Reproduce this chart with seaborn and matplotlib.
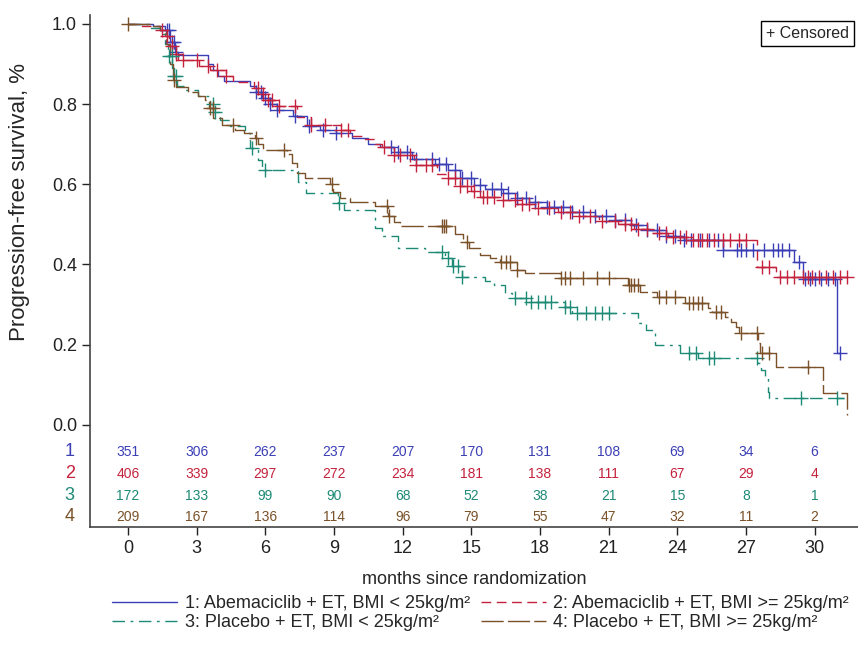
import numpy as np
import pandas as pd
import matplotlib

matplotlib.use("Agg")
import matplotlib.pyplot as plt
import seaborn as sns

# --- data (months, survival) ---
blue_t = [0, 1.1, 1.6, 1.85, 2.05, 2.2, 3.5, 3.7, 3.95, 4.2, 5.35, 5.6, 5.85, 6.2, 6.5, 7.2, 7.8,
          8.4, 9.1, 9.8, 10.5, 11.0, 11.6, 12.4, 13.4, 14.0, 14.5, 15.1, 15.6, 16.4, 17.0, 17.5,
          18.3, 19.4, 20.4, 21.3, 22.0, 22.7, 23.5, 24.3, 26.0, 29.1, 29.5, 31.0, 31.1]
blue_s = [1.0, 0.995, 0.985, 0.955, 0.93, 0.922, 0.90, 0.885, 0.87, 0.858, 0.845, 0.83, 0.815,
          0.80, 0.786, 0.77, 0.745, 0.736, 0.728, 0.715, 0.70, 0.693, 0.68, 0.663, 0.65, 0.635,
          0.615, 0.598, 0.588, 0.578, 0.565, 0.555, 0.543, 0.532, 0.52, 0.51, 0.498, 0.486, 0.472,
          0.462, 0.437, 0.405, 0.365, 0.18, 0.18]
blue_c = [1.7, 1.8, 1.9, 2.0, 2.1, 5.6, 5.8, 6.0, 6.2, 6.5, 7.3, 7.9, 8.5, 9.1, 11.5, 11.8, 12.2,
          12.6, 13.3, 13.6, 13.9, 14.3, 14.6, 15.0, 15.4, 15.9, 16.3, 16.6, 17.0, 17.4, 17.8, 18.3,
          18.6, 19.0, 19.4, 19.9, 20.4, 20.9, 21.3, 21.7, 22.2, 22.7, 23.1, 23.5, 23.9, 24.3, 24.6,
          25.0, 25.4, 25.8, 26.0, 26.6, 26.8, 27.0, 27.3, 27.8, 28.2, 28.4, 28.6, 28.9, 29.3, 29.6,
          29.8, 30.0, 30.3, 30.6, 30.9, 31.1]

red_t = [0, 0.6, 1.4, 1.6, 1.8, 2.0, 2.2, 3.1, 3.6, 4.3, 4.6, 5.5, 5.8, 6.1, 6.5, 7.4, 8.0, 9.3,
         9.7, 10.3, 10.8, 11.1, 11.6, 12.5, 13.5, 14.0, 14.5, 15.0, 15.4, 16.2, 17.0, 17.8, 18.8,
         19.7, 20.6, 21.4, 22.1, 22.8, 23.6, 24.5, 27.5, 28.3, 31.4]
red_s = [1.0, 0.995, 0.985, 0.97, 0.945, 0.925, 0.91, 0.895, 0.885, 0.87, 0.855, 0.84, 0.825,
         0.81, 0.795, 0.768, 0.748, 0.735, 0.72, 0.712, 0.70, 0.693, 0.673, 0.648, 0.625, 0.615,
         0.595, 0.584, 0.568, 0.56, 0.552, 0.54, 0.532, 0.52, 0.508, 0.50, 0.488, 0.478, 0.468,
         0.462, 0.393, 0.37, 0.37]
red_c = [1.5, 1.7, 1.9, 2.1, 2.4, 3.0, 3.5, 3.9, 4.3, 5.7, 5.9, 6.1, 6.3, 6.6, 7.3, 8.0, 8.6, 9.3,
         9.6, 11.2, 11.6, 11.9, 12.3, 12.6, 13.0, 13.3, 14.0, 14.3, 14.5, 14.8, 15.1, 15.5, 15.7,
         16.0, 16.4, 16.9, 17.2, 17.5, 17.9, 18.4, 18.9, 19.3, 19.7, 20.2, 20.7, 21.3, 21.7, 22.0,
         22.3, 22.7, 23.2, 23.5, 23.8, 24.1, 24.4, 24.7, 24.9, 25.1, 25.3, 25.6, 26.0, 26.3, 26.7,
         27.0, 27.7, 28.0, 28.5, 28.8, 29.1, 29.5, 29.7, 29.9, 30.2, 30.5, 30.8, 31.1, 31.4]

teal_t = [0, 0.96, 1.4, 1.62, 1.75, 1.92, 2.0, 2.14, 2.5, 3.06, 3.58, 3.71, 4.02, 4.45, 5.1, 5.33,
          5.68, 5.85, 7.42, 7.77, 9.17, 9.43, 10.79, 11.1, 11.8, 12.97, 13.84, 14.15, 14.59, 15.6,
          16.0, 16.46, 16.77, 17.47, 19.08, 19.39, 22.27, 22.62, 23.01, 24.1, 24.9, 27.55, 27.64,
          27.82, 27.95, 28.03, 31.3]
teal_s = [1.0, 0.99, 0.975, 0.95, 0.92, 0.89, 0.87, 0.845, 0.835, 0.82, 0.80, 0.78, 0.76, 0.745,
          0.728, 0.69, 0.66, 0.635, 0.606, 0.578, 0.553, 0.535, 0.49, 0.47, 0.44, 0.43, 0.415,
          0.395, 0.37, 0.36, 0.35, 0.33, 0.316, 0.307, 0.295, 0.28, 0.255, 0.237, 0.20, 0.18,
          0.167, 0.155, 0.137, 0.12, 0.082, 0.067, 0.067]
teal_c = [1.8, 1.9, 2.0, 2.1, 3.7, 3.8, 5.4, 6.0, 9.2, 13.7, 14.0, 14.2, 14.4, 14.6, 16.9, 17.4,
          17.6, 17.9, 18.2, 18.5, 19.1, 19.3, 19.6, 20.0, 20.4, 20.7, 21.0, 24.5, 24.8, 25.4, 25.6,
          27.5, 29.4, 31.0]

brown_t = [0, 0.96, 1.4, 1.66, 1.83, 1.97, 2.1, 2.62, 3.06, 3.36, 3.54, 3.71, 4.1, 4.67, 5.07,
           5.55, 5.68, 5.9, 6.94, 7.16, 7.38, 7.73, 8.82, 8.95, 9.26, 9.7, 10.8, 11.35, 11.6, 11.9,
           14.28, 14.63, 14.9, 15.37, 15.8, 16.24, 17.0, 17.34, 18.86, 21.83, 22.36, 23.1, 24.32,
           25.33, 25.5, 26.07, 26.33, 26.55, 26.72, 27.51, 27.6, 28.3, 30.35, 31.44]
brown_s = [1.0, 0.995, 0.985, 0.95, 0.90, 0.86, 0.843, 0.83, 0.82, 0.81, 0.79, 0.765, 0.748,
           0.736, 0.728, 0.715, 0.70, 0.685, 0.675, 0.653, 0.628, 0.616, 0.60, 0.58, 0.567, 0.555,
           0.545, 0.52, 0.505, 0.495, 0.475, 0.456, 0.44, 0.424, 0.416, 0.406, 0.387, 0.378, 0.367,
           0.35, 0.332, 0.32, 0.305, 0.292, 0.282, 0.27, 0.257, 0.243, 0.23, 0.205, 0.18, 0.145,
           0.08, 0.025]
brown_c = [0.0, 2.0, 3.6, 3.7, 4.6, 5.6, 6.8, 8.9, 11.3, 11.4, 13.7, 13.8, 13.9, 14.8, 16.3,
           16.5, 16.7, 17.0, 18.9, 19.1, 19.3, 19.9, 20.5, 21.0, 21.9, 22.0, 22.1, 22.3, 23.2, 23.5,
           23.9, 24.5, 24.7, 24.9, 25.1, 25.7, 25.9, 26.8, 27.5, 27.7, 28.0, 29.7]

risk_times = [0, 3, 6, 9, 12, 15, 18, 21, 24, 27, 30]
risk_1 = [351, 306, 262, 237, 207, 170, 131, 108, 69, 34, 6]
risk_2 = [406, 339, 297, 272, 234, 181, 138, 111, 67, 29, 4]
risk_3 = [172, 133, 99, 90, 68, 52, 38, 21, 15, 8, 1]
risk_4 = [209, 167, 136, 114, 96, 79, 55, 47, 32, 11, 2]

labels = ["1: Abemaciclib + ET, BMI < 25kg/m²", "2: Abemaciclib + ET, BMI >= 25kg/m²",
          "3: Placebo + ET, BMI < 25kg/m²", "4: Placebo + ET, BMI >= 25kg/m²"]

colors = ["#3b3fb5", "#c4223c", "#1d8a76", "#7a5128"]
styles = ["-", (0, (7, 4)), (0, (9, 4, 2, 4)), (0, (16, 3))]

sns.set_theme(style="ticks")
plt.rcParams["font.family"] = ["Liberation Sans Narrow", "Liberation Sans", "DejaVu Sans"]

fig = plt.figure(figsize=(8.58, 6.52), dpi=100)
ax = fig.add_axes([0.105, 0.192, 0.895, 0.785])

groups = [(blue_t, blue_s, blue_c), (red_t, red_s, red_c),
          (teal_t, teal_s, teal_c), (brown_t, brown_s, brown_c)]

handles = []
for i, (t, s, c) in enumerate(groups):
    df = pd.DataFrame({"month": t, "surv": s})
    sns.lineplot(data=df, x="month", y="surv", ax=ax, color=colors[i], estimator=None,
                 sort=False, drawstyle="steps-post", linewidth=1.0)
    line = ax.lines[-1]
    line.set_linestyle(styles[i])
    handles.append(line)
    tt = np.array(t)
    ss = np.array(s)
    idx = np.searchsorted(tt, np.array(c), side="right") - 1
    cdf = pd.DataFrame({"month": c, "surv": ss[idx]})
    sns.scatterplot(data=cdf, x="month", y="surv", ax=ax, marker="+", color=colors[i],
                    s=100, linewidth=1.0, zorder=3)

# number at risk table inside the axes, below zero
risk_rows = [risk_1, risk_2, risk_3, risk_4]
row_y = [-0.067, -0.122, -0.177, -0.229]
for i, row in enumerate(risk_rows):
    for t, n in zip(risk_times, row):
        ax.text(t, row_y[i], str(n), color=colors[i], ha="center", va="center", fontsize=10)
    ax.text(-2.55, row_y[i], str(i + 1), color=colors[i], ha="center", va="center",
            fontsize=13, clip_on=False)

ax.set_xlim(-1.66, 31.9)
ax.set_ylim(-0.254, 1.022)
ax.set_xticks(risk_times)
ax.set_yticks([0, 0.2, 0.4, 0.6, 0.8, 1.0])
ax.set_yticklabels(["0.0", "0.2", "0.4", "0.6", "0.8", "1.0"])
ax.tick_params(labelsize=13, length=6, width=1, colors="#222222")
ax.set_xlabel("months since randomization", fontsize=13, labelpad=10)
ax.set_ylabel("Progression-free survival, %", fontsize=16)
ax.yaxis.set_label_coords(-0.078, 0.635)
for side in ["top", "right"]:
    ax.spines[side].set_visible(False)
for side in ["left", "bottom"]:
    ax.spines[side].set_color("#444444")
    ax.spines[side].set_linewidth(1.2)

fig.text(0.893, 0.949, "+ Censored", fontsize=11.5, ha="left", va="center",
         bbox=dict(boxstyle="square,pad=0.3", facecolor="white", edgecolor="black", linewidth=1))

order = [0, 2, 1, 3]
fig.legend([handles[k] for k in order], [labels[k] for k in order], loc="upper center",
           bbox_to_anchor=(0.56, 0.112), ncol=2, frameon=False, fontsize=13,
           handlelength=3.6, columnspacing=0.6, labelspacing=0.12, handletextpad=0.4)

fig.savefig("out.png", dpi=100)
